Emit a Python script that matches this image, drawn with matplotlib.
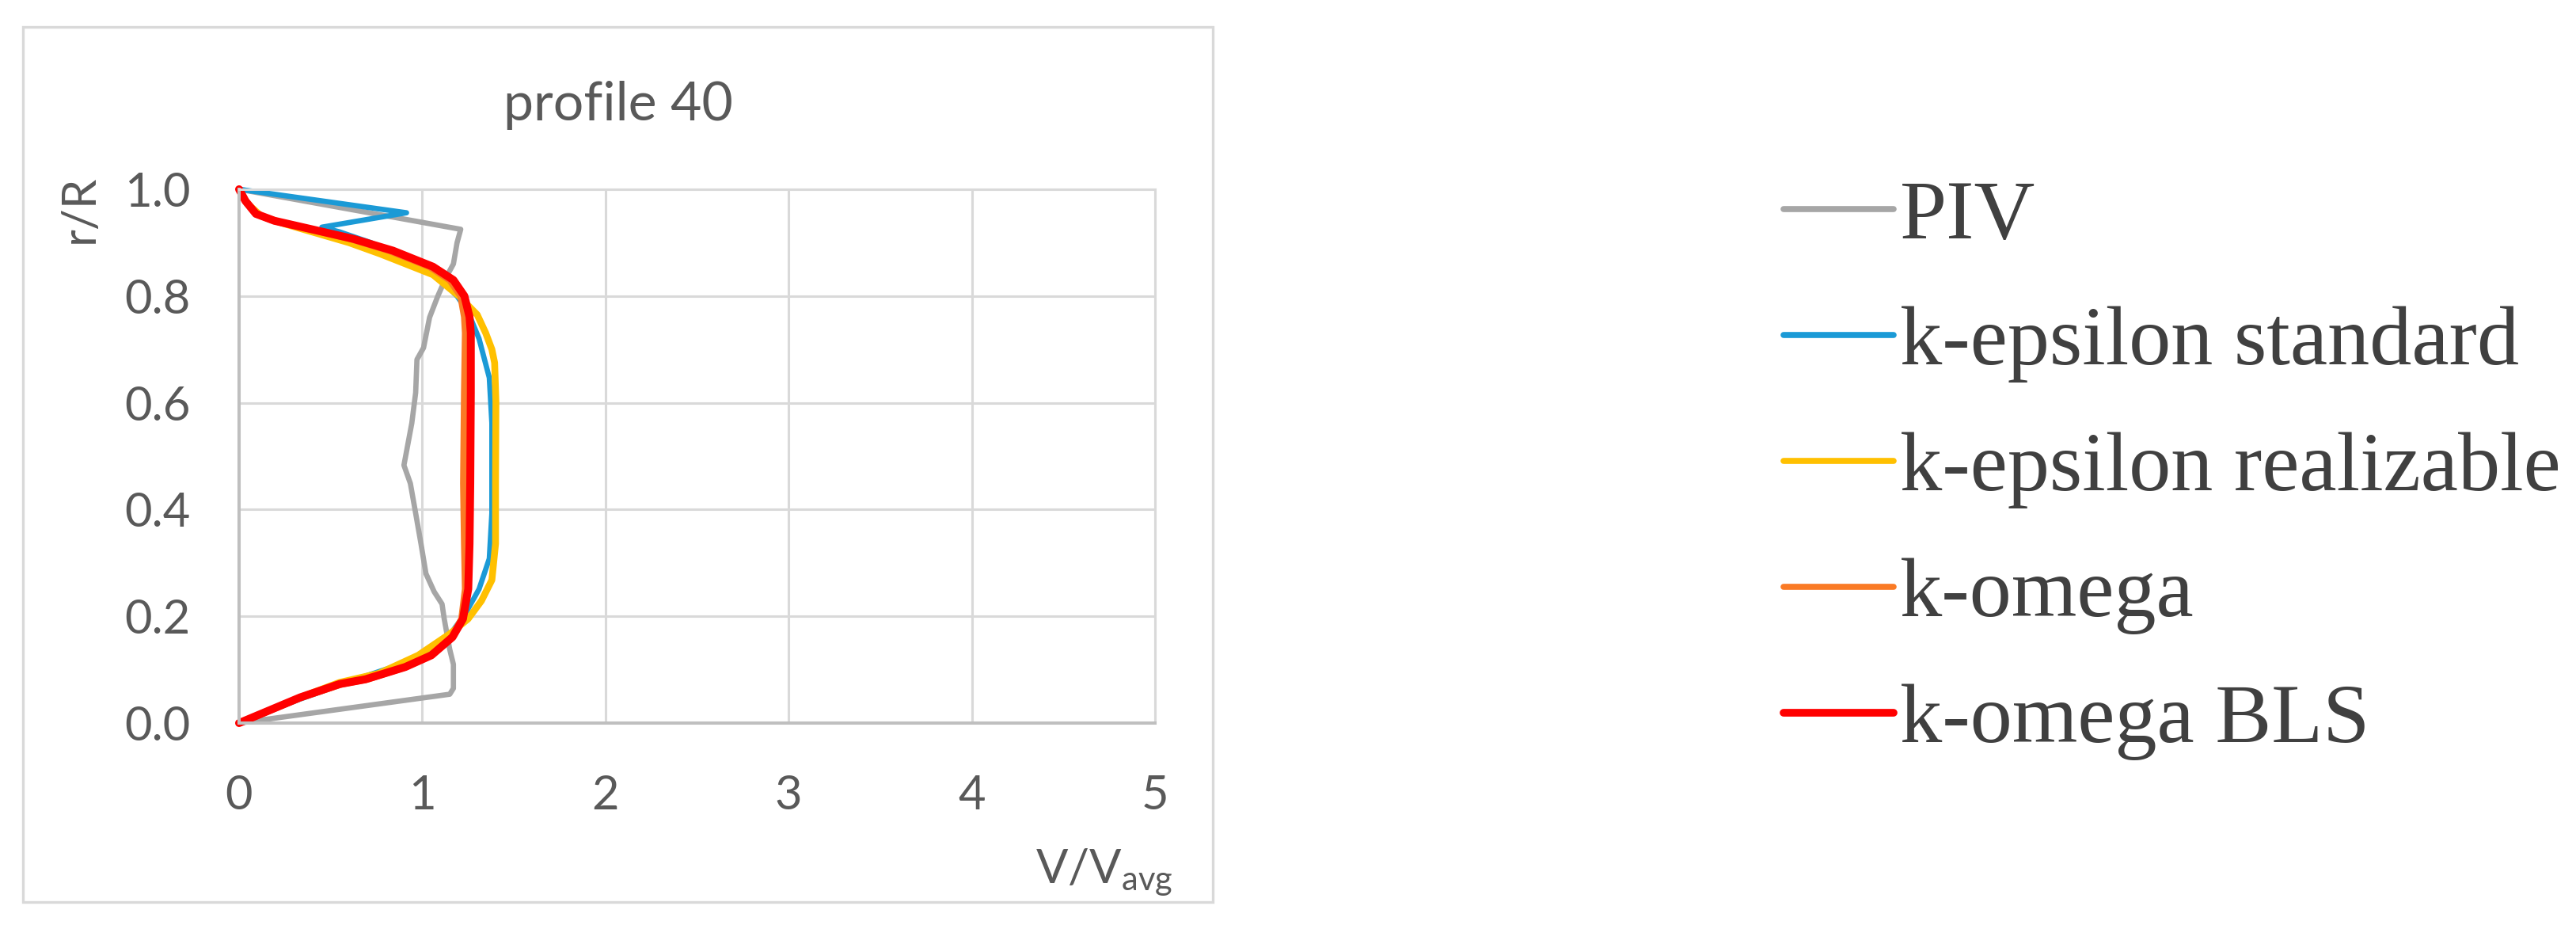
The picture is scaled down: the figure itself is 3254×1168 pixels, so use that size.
import matplotlib
matplotlib.use("Agg")
import matplotlib.pyplot as plt
from matplotlib.patches import Rectangle
from matplotlib.font_manager import FontProperties

plt.rcParams['font.family'] = ['Lato', 'DejaVu Sans']
plt.rcParams['mathtext.fontset'] = 'custom'
plt.rcParams['mathtext.rm'] = 'Lato'
plt.rcParams['mathtext.it'] = 'Lato:italic'

# ---- data (V/Vavg, r/R) ----
piv_y = [1.0, 0.925, 0.90, 0.86, 0.835, 0.80, 0.76, 0.703, 0.681, 0.619, 0.562, 0.483,
         0.449, 0.393, 0.336, 0.28, 0.246, 0.223, 0.195, 0.138, 0.11, 0.065, 0.054, 0.0]
piv_x = [0.0, 1.21, 1.19, 1.17, 1.13, 1.085, 1.04, 1.007, 0.971, 0.964, 0.943, 0.90,
         0.935, 0.964, 0.993, 1.02, 1.065, 1.108, 1.12, 1.15, 1.17, 1.17, 1.15, 0.0]

kes_y = [1.0, 0.956, 0.929, 0.92, 0.90, 0.864, 0.83, 0.80, 0.77, 0.72, 0.647, 0.562,
         0.393, 0.308, 0.251, 0.206, 0.172, 0.121, 0.088, 0.045, 0.0]
kes_x = [0.0, 0.914, 0.452, 0.55, 0.72, 0.95, 1.10, 1.19, 1.25, 1.31, 1.366, 1.38,
         1.38, 1.366, 1.31, 1.237, 1.165, 0.978, 0.69, 0.333, 0.0]

ker_y = [1.0, 0.975, 0.95, 0.935, 0.919, 0.90, 0.879, 0.84, 0.80, 0.765, 0.731, 0.70,
         0.675, 0.602, 0.449, 0.336, 0.268, 0.229, 0.195, 0.167, 0.127, 0.093, 0.076,
         0.048, 0.0]
ker_x = [0.0, 0.04, 0.12, 0.25, 0.41, 0.60, 0.77, 1.058, 1.2, 1.30, 1.346, 1.38,
         1.395, 1.402, 1.40, 1.40, 1.38, 1.323, 1.25, 1.15, 0.978, 0.763, 0.548,
         0.333, 0.0]

kw_y = [1.0, 0.978, 0.954, 0.941, 0.924, 0.907, 0.885, 0.855, 0.83, 0.80, 0.761, 0.731,
        0.619, 0.449, 0.336, 0.251, 0.195, 0.161, 0.127, 0.105, 0.082, 0.073, 0.048,
        0.017, 0.0]
kw_x = [0.0, 0.035, 0.09, 0.19, 0.40, 0.61, 0.82, 1.04, 1.15, 1.21, 1.23, 1.235,
        1.23, 1.225, 1.23, 1.235, 1.215, 1.16, 1.05, 0.91, 0.70, 0.56, 0.34, 0.12, 0.0]

kwb_y = [1.0, 0.978, 0.954, 0.941, 0.924, 0.907, 0.885, 0.855, 0.83, 0.80, 0.761, 0.731,
         0.619, 0.449, 0.336, 0.251, 0.195, 0.161, 0.127, 0.105, 0.082, 0.073, 0.048,
         0.017, 0.0]
kwb_x = [0.0, 0.035, 0.092, 0.193, 0.41, 0.625, 0.84, 1.058, 1.17, 1.23, 1.258, 1.265,
         1.265, 1.262, 1.258, 1.251, 1.222, 1.165, 1.05, 0.907, 0.69, 0.548, 0.333,
         0.118, 0.0]

series_names = ["PIV", "k-epsilon standard", "k-epsilon realizable", "k-omega", "k-omega BLS"]
x_ticks = [0, 1, 2, 3, 4, 5]
y_ticks = [0.0, 0.2, 0.4, 0.6, 0.8, 1.0]

colors = ['#a6a6a6', '#1b9ad6', '#ffc000', '#fa7a25', '#ff0000']
widths = [4.8, 4.8, 6.2, 6.2, 7.2]

W, H = 3255, 1168
fig = plt.figure(figsize=(W / 100, H / 100), dpi=100)

def fx(px):
    return px / W

def fy(py):
    return (H - py) / H

# chart frame
fig.patches.append(Rectangle((fx(29), fy(1139)), fx(1532) - fx(29), fy(34) - fy(1139),
                             transform=fig.transFigure, fill=False,
                             edgecolor='#d9d9d9', linewidth=2.4))

ax = fig.add_axes([fx(302), fy(913), fx(1459) - fx(302), fy(239) - fy(913)])
ax.set_xlim(0, 5)
ax.set_ylim(0, 1)
ax.set_xticks(x_ticks)
ax.set_xticklabels([str(v) for v in x_ticks])
ax.set_yticks(y_ticks)
ax.set_yticklabels([f"{v:.1f}" for v in y_ticks])
ax.grid(True, color='#d9d9d9', linewidth=2.2, zorder=0)
ax.set_axisbelow(True)
for s in ['top', 'right']:
    ax.spines[s].set_color('#d9d9d9')
    ax.spines[s].set_linewidth(2.2)
for s in ['left', 'bottom']:
    ax.spines[s].set_color('#bfbfbf')
    ax.spines[s].set_linewidth(2.9)
ax.tick_params(axis='both', length=0, labelsize=43, labelcolor='#595959')
ax.tick_params(axis='x', pad=47)
ax.tick_params(axis='y', pad=44)

data = [(piv_x, piv_y), (kes_x, kes_y), (ker_x, ker_y), (kw_x, kw_y), (kwb_x, kwb_y)]
lines = []
for (xs, ys), c, lw, name in zip(data, colors, widths, series_names):
    ln, = ax.plot(xs, ys, color=c, linewidth=lw, label=name,
                  solid_joinstyle='round', solid_capstyle='round', clip_on=False)
    lines.append(ln)

fig.text(fx(781), fy(152), "profile 40", ha='center', va='baseline',
         fontsize=49, color='#595959')
fig.text(fx(101), fy(264), "r/R", ha='center', va='center', rotation=90,
         fontsize=43, color='#595959')
fig.text(fx(1482), fy(1115), r"$\mathrm{V/V_{avg}}$", ha='right', va='baseline',
         fontsize=43, color='#595959')

leg = fig.legend(handles=lines, labels=series_names, loc='upper left',
                 bbox_to_anchor=(fx(2253), fy(227)), frameon=False,
                 borderpad=0, borderaxespad=0, handlelength=1.31, handletextpad=0.07,
                 labelspacing=0.58,
                 prop=FontProperties(family=['Liberation Serif', 'DejaVu Serif'], size=76.5))
for t in leg.get_texts():
    t.set_color('#404040')
for h, lw in zip(leg.get_lines(), [5.5, 5.5, 5.5, 5.5, 7.0]):
    h.set_linewidth(lw)

fig.savefig("out.png", dpi=100, facecolor='white')
